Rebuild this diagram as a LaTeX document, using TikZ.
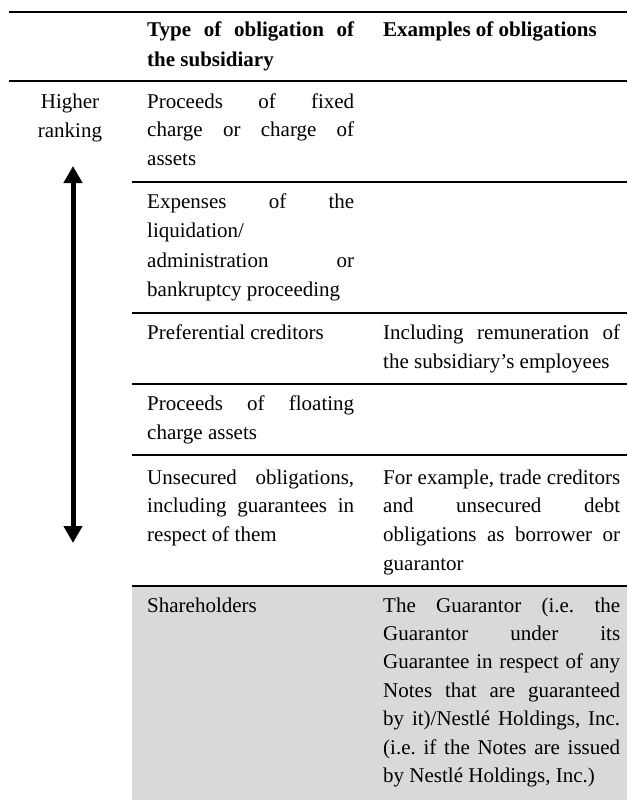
\documentclass[tikz,border=0pt]{standalone}
\usepackage{fontspec}
\setmainfont{Liberation Serif}
\usetikzlibrary{arrows.meta}
\definecolor{cellgray}{HTML}{D9D9D9}
\hbadness=10000
\frenchspacing
\newcommand\jl[2]{\hbox to #1{#2}}
\newcommand\nl[1]{\hbox{#1}}
\tikzset{
  cell/.style={anchor=base west,inner sep=0pt,font=\fontsize{21}{29.5}\selectfont},
  rule/.style={line width=2.4pt},
  rank/.style={line width=5pt,{Triangle[length=17pt,width=18pt]}-{Triangle[length=17pt,width=18pt]}}
}
\newcommand\stk[2]{\vtop{\baselineskip=#1\lineskiplimit=-100pt\lineskip=0pt #2}}
\begin{document}
\begin{tikzpicture}[x=1pt,y=-1pt]
\useasboundingbox (0,0) rectangle (627,800);
% shaded last row
\fill[cellgray] (132,586) rectangle (627,800);
% rules
\draw[rule] (9,12) -- (627,12);
\draw[rule] (9,81) -- (627,81);
\foreach \yy in {182,313,384,455,586} \draw[rule] (132,\yy) -- (627,\yy);
% header
\node[cell] (h2) at (147,37) {\bfseries\stk{30pt}{\jl{207pt}{Type of obligation of}\nl{the subsidiary}}};
\node[cell] (h3) at (383,37) {\bfseries\stk{30pt}{\nl{Examples of obligations}}};
% left column
\node[cell,anchor=base] (hr) at (70,108) {\stk{29pt}{\halign{\hfil#\hfil\cr Higher\cr ranking\cr}}};
% row 1
\node[cell] (r1) at (147,108) {\stk{28.7pt}{\jl{207pt}{Proceeds of fixed}\jl{207pt}{charge or charge of}\nl{assets}}};
% row 2
\node[cell] (r2) at (147,208) {\stk{29.5pt}{\jl{207pt}{Expenses of the}\nl{liquidation/}\jl{207pt}{administration or}\nl{bankruptcy proceeding}}};
% row 3
\node[cell] (r3a) at (147,339) {\stk{29pt}{\nl{Preferential creditors}}};
\node[cell] (r3b) at (383,339) {\stk{29pt}{\jl{237pt}{Including remuneration of}\nl{the subsidiary’s employees}}};
% row 4
\node[cell] (r4) at (147,410) {\stk{29pt}{\jl{207pt}{Proceeds of floating}\nl{charge assets}}};
% row 5
\node[cell] (r5a) at (147,484) {\stk{28.8pt}{\jl{207pt}{Unsecured obligations,}\jl{207pt}{including guarantees in}\nl{respect of them}}};
\node[cell] (r5b) at (383,484) {\stk{28.8pt}{\jl{237pt}{For example, trade creditors}\jl{237pt}{and unsecured debt}\jl{237pt}{obligations as borrower or}\nl{guarantor}}};
% row 6
\node[cell] (r6a) at (147,612) {\stk{28.4pt}{\nl{Shareholders}}};
\node[cell] (r6b) at (383,612) {\stk{28.4pt}{\jl{237pt}{The Guarantor (i.e. the}\jl{237pt}{Guarantor under its}\jl{237pt}{Guarantee in respect of any}\jl{237pt}{Notes that are guaranteed}\jl{237pt}{by it)/Nestlé Holdings, Inc.}\jl{237pt}{(i.e. if the Notes are issued}\nl{by Nestlé Holdings, Inc.)}}};
% ranking arrow
\coordinate (atop) at (73,166);
\coordinate (abot) at (73,543);
\draw[rank] (atop) -- (abot);
\end{tikzpicture}
\end{document}
